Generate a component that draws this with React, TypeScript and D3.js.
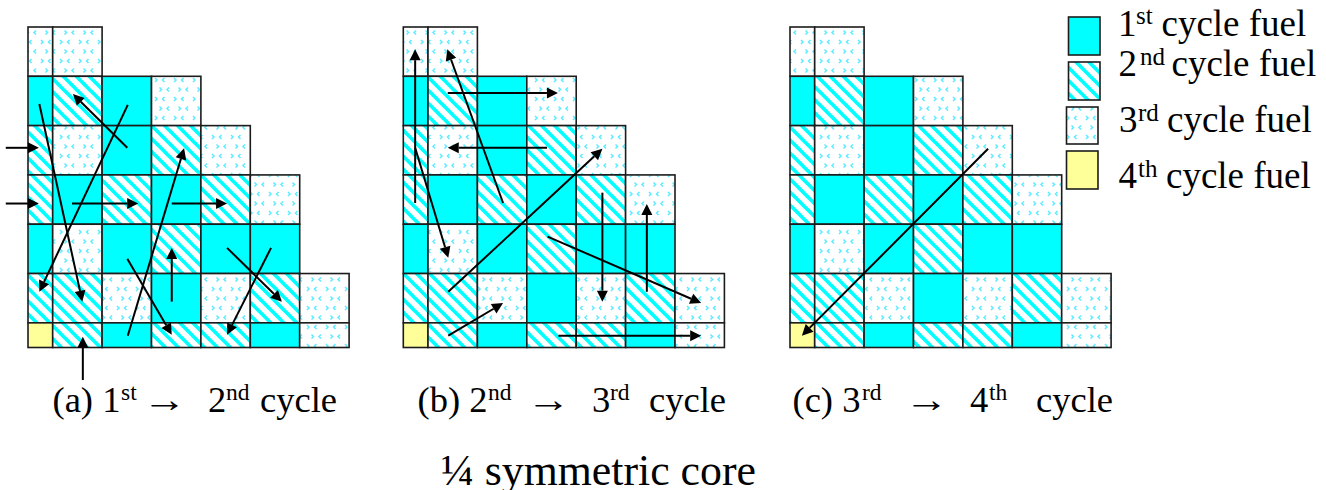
import React from "react";
import * as d3 from "d3";

// fuel cycle of each assembly, row by row (top to bottom), left to right
const coreRows: number[][] = [
  [3, 3],
  [1, 2, 1, 3],
  [2, 3, 1, 2, 3],
  [2, 1, 2, 1, 2, 3],
  [1, 3, 1, 2, 1, 1],
  [2, 2, 3, 1, 3, 2, 3],
  [4, 2, 1, 2, 2, 1, 3],
];
// grid lines in assembly pitches (the first column and the last row are half assemblies)
const colEdges = [0, 0.5, 1.5, 2.5, 3.5, 4.5, 5.5, 6.5];
const rowEdges = [0, 1, 2, 3, 4, 5, 6, 6.5];

// shuffles [fromCol, fromRow, toCol, toRow] in grid units
const movesA = [
  [2.02, 1.58, 0.23, 5.37],
  [0.23, 1.56, 1.1, 5.57],
  [2.01, 2.45, 0.91, 1.36],
  [-0.45, 2.45, 0.22, 2.45],
  [-0.45, 3.58, 0.22, 3.58],
  [0.89, 3.58, 2.23, 3.58],
  [2.91, 3.58, 4.03, 3.58],
  [2.02, 6.26, 3.16, 2.46],
  [2.01, 4.7, 2.91, 6.24],
  [2.91, 5.57, 2.91, 4.48],
  [4.03, 4.48, 5.14, 5.57],
  [4.92, 4.48, 4.03, 6.24],
  [1.11, 7.16, 1.11, 6.28],
];
const movesB = [
  [0.24, 3.57, 0.24, 0.45],
  [2.02, 3.57, 0.89, 0.45],
  [0.9, 1.34, 3.13, 1.34],
  [2.91, 2.45, 0.9, 2.45],
  [0.24, 2.45, 0.91, 4.68],
  [0.91, 5.37, 4.03, 2.47],
  [4.03, 3.36, 4.03, 5.57],
  [4.93, 5.37, 4.93, 3.59],
  [2.92, 4.25, 6.03, 5.6],
  [0.91, 6.26, 2.02, 5.6],
  [3.14, 6.26, 6.03, 6.26],
];
const movesC = [[4.01, 2.47, 0.24, 6.26]];

const panelMoves = [movesA, movesB, movesC];

const legendLabels = ["1", "2", "3", "4"];
const legendSups = ["st", "nd", "rd", "th"];
const legendText = "cycle fuel";
const footer = "¼ symmetric core";

const captionParts = [
  { lead: "(a) 1", sup1: "st", next: "2", sup2: "nd" },
  { lead: "(b) 2", sup1: "nd", next: "3", sup2: "rd" },
  { lead: "(c) 3", sup1: "rd", next: "4", sup2: "th" },
];

const FILLS: Record<number, string> = {
  1: "#00ffff",
  2: "url(#stripes)",
  3: "url(#dots)",
  4: "#ffff99",
};
const INK = "#1c1c1c";
const SERIF = "'Liberation Serif', 'Times New Roman', serif";

const panelX = [28, 403.3, 790];
const capPos = [
  { lead: 52.5, sup1: 121, arrow: 142.5, next: 208, sup2: 226, cycle: 260 },
  { lead: 417.5, sup1: 488, arrow: 526.5, next: 592, sup2: 610, cycle: 649 },
  { lead: 792.5, sup1: 862, arrow: 904.5, next: 970, sup2: 989, cycle: 1036 },
];
const legendPos = [
  { x: 1068.5, y: 17, h: 38, tx: 1118, sx: 1136, cx: 1161.5, base: 36, sBase: 24 },
  { x: 1068.5, y: 62, h: 38, tx: 1118.5, sx: 1140, cx: 1171.5, base: 76, sBase: 65 },
  { x: 1066.5, y: 107, h: 37, tx: 1119, sx: 1138, cx: 1167, base: 132, sBase: 121 },
  { x: 1066.5, y: 151, h: 38, tx: 1118.5, sx: 1138, cx: 1166, base: 188, sBase: 177 },
];

const PITCH = 49.4;
const yScale = d3.scaleLinear().domain([0, 6.5]).range([27, 347.5]);

function Arrow({ m, sx }: { m: number[]; sx: d3.ScaleLinear<number, number> }) {
  const x1 = sx(m[0]), y1 = yScale(m[1]), x2 = sx(m[2]), y2 = yScale(m[3]);
  const a = Math.atan2(y2 - y1, x2 - x1);
  const L = 11, W = 5.5;
  const bx = x2 - L * Math.cos(a), by = y2 - L * Math.sin(a);
  const nx = -Math.sin(a), ny = Math.cos(a);
  const line = d3.line();
  return (
    <g>
      <path d={line([[x1, y1], [bx, by]]) ?? ""} stroke="#000" strokeWidth={2} fill="none" />
      <path
        d={(line([[x2, y2], [bx + nx * W, by + ny * W], [bx - nx * W, by - ny * W]]) ?? "") + "Z"}
        fill="#000"
      />
    </g>
  );
}

function Panel({ index }: { index: number }) {
  const sx = d3.scaleLinear().domain([0, 1]).range([panelX[index], panelX[index] + PITCH]);
  return (
    <g>
      {coreRows.map((row, r) =>
        row.map((cycle, c) => (
          <rect
            key={`${r}-${c}`}
            x={sx(colEdges[c])}
            y={yScale(rowEdges[r])}
            width={sx(colEdges[c + 1]) - sx(colEdges[c])}
            height={yScale(rowEdges[r + 1]) - yScale(rowEdges[r])}
            fill={FILLS[cycle]}
            stroke={INK}
            strokeWidth={1.6}
          />
        ))
      )}
      {panelMoves[index].map((m, i) => (
        <Arrow key={i} m={m} sx={sx} />
      ))}
    </g>
  );
}

const blobs = [
  [3, 2, 1], [12.5, 2, -1], [7.5, 11.5, 1], [17, 11.5, -1],
];

export default function App() {
  return (
    <svg
      width={1326}
      height={490}
      viewBox="0 0 1326 490"
      style={{ position: "absolute", left: 0, top: 0, display: "block", background: "#fff" }}
      fontFamily={SERIF}
      fill="#000"
    >
      <defs>
        <pattern id="stripes" patternUnits="userSpaceOnUse" width={13} height={13}>
          <rect width={13} height={13} fill="#fff" />
          <path d="M0,0L2.6,0L13,10.4L13,13L10.4,13L0,2.6Z" fill="#00ffff" />
          <path d="M10.4,0L13,0L13,2.6Z" fill="#00ffff" />
          <path d="M0,10.4L2.6,13L0,13Z" fill="#00ffff" />
        </pattern>
        <pattern id="dots" patternUnits="userSpaceOnUse" width={19} height={19}>
          <rect width={19} height={19} fill="#fff" />
          {blobs.map(([x, y, d], i) => (
            <path
              key={i}
              d={`M${x},${y}L${x + 2 * d},${y + 2}L${x},${y + 4}`}
              fill="none"
              stroke="#5cecff"
              strokeWidth={1.5}
            />
          ))}
        </pattern>
      </defs>

      {captionParts.map((_, i) => (
        <Panel key={i} index={i} />
      ))}

      {captionParts.map((c, i) => {
        const p = capPos[i];
        return (
          <g key={i} fontSize={36.5}>
            <text x={p.lead} y={411.5}>{c.lead}</text>
            <text x={p.sup1} y={400} fontSize={23.5}>{c.sup1}</text>
            <text x={p.arrow} y={411.5} textLength={44} lengthAdjust="spacingAndGlyphs">→</text>
            <text x={p.next} y={411.5}>{c.next}</text>
            <text x={p.sup2} y={400} fontSize={23.5}>{c.sup2}</text>
            <text x={p.cycle} y={411.5}>cycle</text>
          </g>
        );
      })}

      {legendLabels.map((n, i) => {
        const p = legendPos[i];
        return (
          <g key={n}>
            <rect
              x={p.x}
              y={p.y}
              width={31.5}
              height={p.h}
              fill={FILLS[i + 1]}
              stroke={INK}
              strokeWidth={1.6}
            />
            <text x={p.tx} y={p.base} fontSize={37}>{n}</text>
            <text x={p.sx} y={p.sBase} fontSize={25}>{legendSups[i]}</text>
            <text x={p.cx} y={p.base} fontSize={37}>{legendText}</text>
          </g>
        );
      })}

      <text x={441} y={485} fontSize={43.8}>{footer}</text>
    </svg>
  );
}
